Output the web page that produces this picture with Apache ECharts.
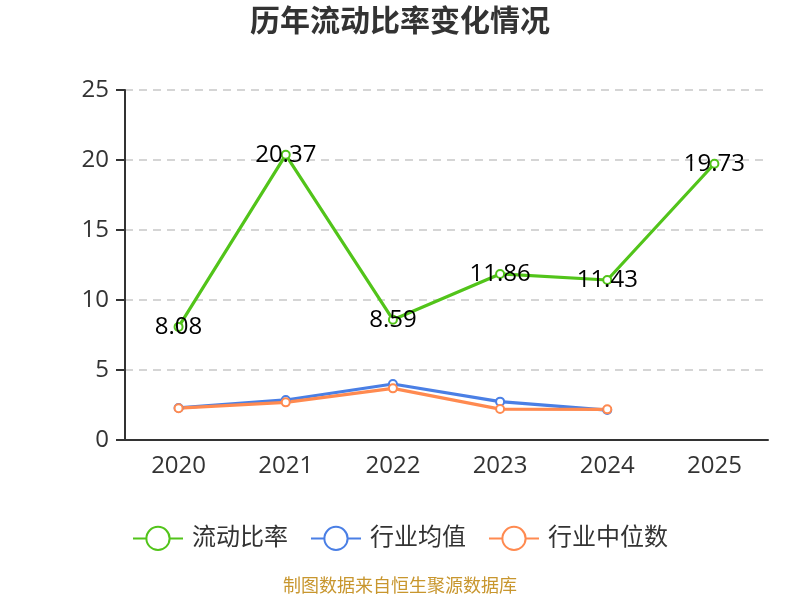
<!DOCTYPE html>
<html>
<head>
<meta charset="utf-8">
<script src="https://cdn.jsdelivr.net/npm/echarts@6/dist/echarts.min.js"></script>
<style>
  html, body { margin: 0; padding: 0; background: #fff; }
  #chart { width: 800px; height: 600px; }
</style>
</head>
<body>
<div id="chart"></div>
<script>
// 数据
var years = ['2020', '2021', '2022', '2023', '2024', '2025']
var currentRatio = [8.08, 20.37, 8.59, 11.86, 11.43, 19.73]
var industryAvg = [2.29, 2.86, 4.0, 2.74, 2.14]
var industryMedian = [2.27, 2.69, 3.69, 2.21, 2.19]

var font = '"Open Sans", "Noto Sans CJK SC", sans-serif'

var chart = echarts.init(document.getElementById('chart'))
chart.setOption({
  animation: false,
  textStyle: { fontFamily: font },
  title: {
    text: '历年流动比率变化情况',
    left: 'center',
    top: 2,
    textStyle: { fontSize: 30, fontWeight: 'bold', color: '#333', fontFamily: font }
  },
  graphic: [{
    type: 'text',
    left: 'center',
    top: 578,
    style: { text: '制图数据来自恒生聚源数据库', fill: '#c8962e', font: '18px ' + font }
  }],
  grid: { left: 125, right: 32, top: 90, bottom: 160, containLabel: false },
  legend: {
    bottom: 44,
    itemWidth: 50,
    itemHeight: 29,
    itemGap: 22,
    textStyle: { fontSize: 24, color: '#333', padding: [0, 0, 0, 4] },
    data: ['流动比率', '行业均值', '行业中位数']
  },
  xAxis: {
    type: 'category',
    data: years,
    axisLine: { lineStyle: { color: '#333', width: 2 } },
    axisTick: { length: 9, lineStyle: { color: '#333', width: 2 } },
    axisLabel: { fontSize: 24, color: '#333', margin: 14 }
  },
  yAxis: {
    type: 'value',
    min: 0,
    max: 25,
    interval: 5,
    axisLine: { show: true, lineStyle: { color: '#333', width: 2 } },
    axisTick: { show: true, length: 9, lineStyle: { color: '#333', width: 2 } },
    axisLabel: { fontSize: 24, color: '#333', margin: 16 },
    splitLine: { lineStyle: { color: '#c8c8c8', type: [8, 6], width: 1.5 } }
  },
  series: [
    {
      name: '流动比率',
      type: 'line',
      data: currentRatio,
      symbol: 'emptyCircle',
      symbolSize: 8,
      color: '#52c41a',
      lineStyle: { width: 3.2 },
      z: 5,
      label: {
        show: true,
        position: 'inside',
        fontSize: 24,
        color: '#000',
        formatter: function (p) { return p.value.toFixed(2) }
      }
    },
    {
      name: '行业均值',
      type: 'line',
      data: industryAvg,
      symbol: 'emptyCircle',
      symbolSize: 8,
      color: '#4a7fe5',
      lineStyle: { width: 3.2 }
    },
    {
      name: '行业中位数',
      type: 'line',
      data: industryMedian,
      symbol: 'emptyCircle',
      symbolSize: 8,
      color: '#ff8a50',
      lineStyle: { width: 3.2 }
    }
  ]
})
</script>
</body>
</html>
